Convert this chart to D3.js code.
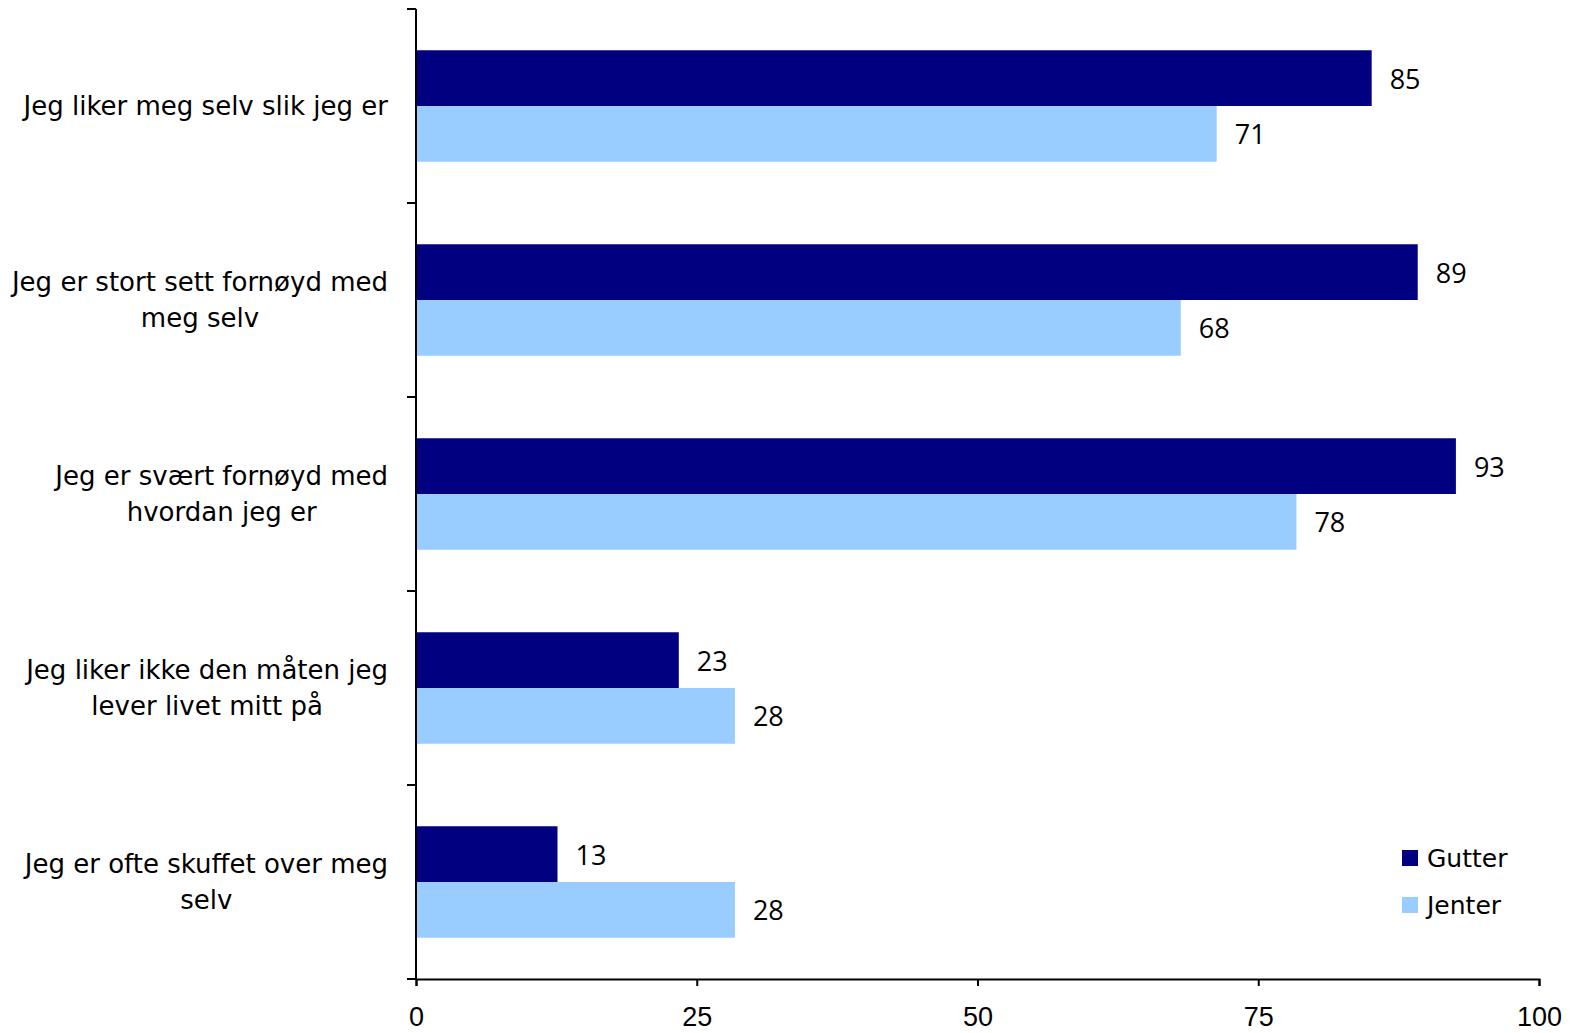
<!DOCTYPE html>
<html><head><meta charset="utf-8">
<script src="https://cdn.jsdelivr.net/npm/d3@7/dist/d3.min.js"></script>
<style>body{margin:0;background:#fff}svg{display:block}</style>
</head><body>
<script>
const categories = [
  ["Jeg liker meg selv slik jeg er"],
  ["Jeg er stort sett fornøyd med", "meg selv"],
  ["Jeg er svært fornøyd med", "hvordan jeg er"],
  ["Jeg liker ikke den måten jeg", "lever livet mitt på"],
  ["Jeg er ofte skuffet over meg", "selv"]
];
const seriesNames = ["Gutter", "Jenter"];
const gutter = [85.1, 89.2, 92.6, 23.4, 12.6];
const jenter = [71.3, 68.1, 78.4, 28.4, 28.4];
const xTicks = [0, 25, 50, 75, 100];
const colors = ["#000080", "#99CCFF"];

const W = 1579, H = 1033;
const svg = d3.select("body").append("svg").attr("width", W).attr("height", H);
const labelFont = "DejaVu Sans, Verdana, sans-serif";
const numFont = "Open Sans, Liberation Sans, sans-serif";
const tickFont = "Liberation Sans, Arial, sans-serif";

const x = d3.scaleLinear().domain([0, 100]).range([416, 1539]);
const keys = categories.map((c, i) => i);
const y = d3.scaleBand().domain(keys).range([9, 979]).padding(0);
const ySub = d3.scaleBand().domain(seriesNames).range([0, y.bandwidth()]).paddingInner(0).paddingOuter(0.74);

const data = keys.map(i => ({i, vals: [gutter[i], jenter[i]]}));

const g = svg.append("g");
data.forEach(d => {
  d.vals.forEach((v, s) => {
    const yy = y(d.i) + ySub(seriesNames[s]);
    g.append("rect").attr("x", x(0)).attr("y", yy)
      .attr("width", x(v) - x(0)).attr("height", ySub.bandwidth())
      .attr("fill", colors[s]);
    g.append("text").attr("x", x(v) + 18).attr("y", yy + ySub.bandwidth() / 2)
      .attr("dominant-baseline", "central")
      .attr("font-family", numFont).attr("font-size", 27).attr("fill", "#000")
      .text(d3.format(".0f")(v));
  });
});

// x axis
const xAxis = svg.append("g").attr("transform", "translate(0,979)")
  .call(d3.axisBottom(x).tickValues(xTicks).tickSize(7).tickSizeOuter(7).tickPadding(21));
xAxis.select(".domain").attr("stroke", "#000").attr("stroke-width", 2);
xAxis.selectAll(".tick line").attr("stroke", "#000").attr("stroke-width", 2);
xAxis.selectAll(".tick text").attr("font-family", tickFont).attr("font-size", 27).attr("fill", "#000");

// y axis line with boundary ticks
const yAxis = svg.append("g");
yAxis.append("line").attr("x1", x(0)).attr("x2", x(0)).attr("y1", 9).attr("y2", 979)
  .attr("stroke", "#000").attr("stroke-width", 2);
const bounds = keys.map(k => y(k)).concat([y(keys[keys.length - 1]) + y.bandwidth()]);
yAxis.selectAll(".yt").data(bounds).enter().append("line")
  .attr("x1", x(0) - 9).attr("x2", x(0)).attr("y1", d => d).attr("y2", d => d)
  .attr("stroke", "#000").attr("stroke-width", 2);

// category labels
const rightEdge = 388;
const lineH = 36;
categories.forEach((lines, i) => {
  const grp = svg.append("g");
  const cy = y(i) + y.bandwidth() / 2;
  const texts = lines.map((ln, j) => grp.append("text")
    .attr("font-family", labelFont).attr("font-size", 26).attr("fill", "#000")
    .attr("text-anchor", "middle").attr("dominant-baseline", "central")
    .attr("y", cy + (j - (lines.length - 1) / 2) * lineH).text(ln));
  const maxW = d3.max(texts, t => t.node().getComputedTextLength());
  texts.forEach(t => t.attr("x", rightEdge - maxW / 2));
});

// legend
const leg = svg.append("g");
seriesNames.forEach((n, s) => {
  const ly = 850 + s * 47;
  leg.append("rect").attr("x", 1402).attr("y", ly).attr("width", 16).attr("height", 16).attr("fill", colors[s]);
  leg.append("text").attr("x", 1427).attr("y", ly + 8).attr("dominant-baseline", "central")
    .attr("font-family", labelFont).attr("font-size", 25).attr("fill", "#000").text(n);
});
</script>
</body></html>
